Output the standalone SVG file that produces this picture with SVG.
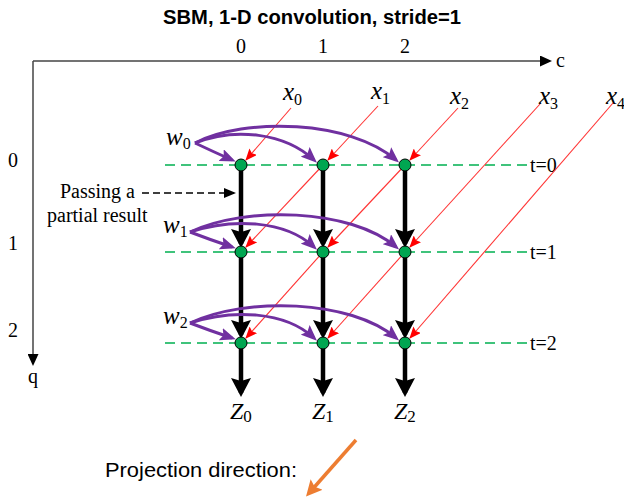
<svg xmlns="http://www.w3.org/2000/svg" width="624" height="501" viewBox="0 0 624 501">
<style>
.serif{font-family:"Liberation Serif","Times New Roman",serif;fill:#000}
.it{font-style:italic}
.sans{font-family:"Liberation Sans",Arial,sans-serif;fill:#000}
.axis{stroke:#444;stroke-width:1.5;fill:none}
.grid{stroke:#00B050;stroke-width:1.5;stroke-dasharray:10 6;fill:none}
.blk{stroke:#000;stroke-width:4.5;fill:none}
.red{stroke:#FF3333;stroke-width:1.1;fill:none}
.pur{stroke:#7030A0;stroke-width:3;fill:none}
.node{fill:#00A651;stroke:#000;stroke-width:1}
</style>
<defs>
<marker id="mAxis" markerUnits="userSpaceOnUse" markerWidth="13" markerHeight="11" refX="10" refY="5.5" orient="auto"><path d="M0,0 L12,5.5 L0,11 z" fill="#000"/></marker>
<marker id="mBlk" markerUnits="userSpaceOnUse" markerWidth="21" markerHeight="20" refX="15" refY="10" orient="auto"><path d="M0,0 L19,10 L0,20 L3,10 z" fill="#000"/></marker>
<marker id="mRed" markerUnits="userSpaceOnUse" markerWidth="14" markerHeight="10" refX="11" refY="5" orient="auto"><path d="M0,0 L12,5 L0,10 L2,5 z" fill="#FF0000"/></marker>
<marker id="mPur" markerUnits="userSpaceOnUse" markerWidth="17" markerHeight="13" refX="12" refY="6.5" orient="auto"><path d="M0,0 L16,6.5 L0,13 L3,6.5 z" fill="#7030A0"/></marker>
<marker id="mDash" markerUnits="userSpaceOnUse" markerWidth="14" markerHeight="10" refX="10" refY="5" orient="auto"><path d="M0,0 L12,5 L0,10 z" fill="#000"/></marker>
<marker id="mOr" markerUnits="userSpaceOnUse" markerWidth="18" markerHeight="16" refX="10" refY="8" orient="auto"><path d="M0,0 L16,8 L0,16 L3,8 z" fill="#ED7D31"/></marker>
</defs>

<g id="title"><text class="sans" x="312" y="24" font-size="20" font-weight="bold" text-anchor="middle" textLength="298" lengthAdjust="spacingAndGlyphs">SBM, 1-D convolution, stride=1</text></g>

<g id="axes">
<line class="axis" x1="33" y1="61" x2="550" y2="61" marker-end="url(#mAxis)"/>
<line class="axis" x1="33" y1="61" x2="33" y2="364" marker-end="url(#mAxis)"/>
<text class="serif" x="556" y="67" font-size="20">c</text>
<text class="serif" x="28" y="383" font-size="20">q</text>
<text class="serif" x="241" y="53" font-size="20" text-anchor="middle">0</text>
<text class="serif" x="323" y="53" font-size="20" text-anchor="middle">1</text>
<text class="serif" x="405" y="53" font-size="20" text-anchor="middle">2</text>
<text class="serif" x="13" y="167" font-size="20" text-anchor="middle">0</text>
<text class="serif" x="13" y="250" font-size="20" text-anchor="middle">1</text>
<text class="serif" x="13" y="337" font-size="20" text-anchor="middle">2</text>
</g>

<g id="time-lines">
<line class="grid" x1="165" y1="165" x2="528" y2="165"/>
<line class="grid" x1="165" y1="252" x2="528" y2="252"/>
<line class="grid" x1="165" y1="343" x2="528" y2="343"/>
<text class="serif" x="530" y="172" font-size="20">t=0</text>
<text class="serif" x="530" y="259" font-size="20">t=1</text>
<text class="serif" x="530" y="350" font-size="20">t=2</text>
</g>

<g id="inputs">
<text class="serif it" x="283" y="100" font-size="25">x<tspan font-size="16" dy="5" font-style="normal">0</tspan></text>
<text class="serif it" x="371" y="99" font-size="25">x<tspan font-size="16" dy="5" font-style="normal">1</tspan></text>
<text class="serif it" x="450" y="104" font-size="25">x<tspan font-size="16" dy="5" font-style="normal">2</tspan></text>
<text class="serif it" x="539" y="104" font-size="25">x<tspan font-size="16" dy="5" font-style="normal">3</tspan></text>
<text class="serif it" x="606" y="104" font-size="25">x<tspan font-size="16" dy="5" font-style="normal">4</tspan></text>
</g>

<g id="weights">
<text class="serif it" x="166" y="145" font-size="25">w<tspan font-size="16" dy="4" font-style="normal">0</tspan></text>
<text class="serif it" x="163" y="233" font-size="25">w<tspan font-size="16" dy="4" font-style="normal">1</tspan></text>
<text class="serif it" x="163" y="324" font-size="25">w<tspan font-size="16" dy="4" font-style="normal">2</tspan></text>
</g>

<g id="outputs">
<text class="serif it" x="230" y="419" font-size="24">Z<tspan font-size="17" dy="3" font-style="normal">0</tspan></text>
<text class="serif it" x="312" y="419" font-size="24">Z<tspan font-size="17" dy="3" font-style="normal">1</tspan></text>
<text class="serif it" x="394" y="419" font-size="24">Z<tspan font-size="17" dy="3" font-style="normal">2</tspan></text>
</g>

<g id="note">
<text class="serif" x="60" y="198" font-size="20">Passing a</text>
<text class="serif" x="47" y="222" font-size="20">partial result</text>
<text class="sans" x="105" y="477" font-size="21" textLength="192" lengthAdjust="spacingAndGlyphs">Projection direction:</text>
</g>

<g id="connectors">
<!-- black partial-result arrows -->
<line class="blk" x1="241" y1="165" x2="241" y2="244" marker-end="url(#mBlk)"/>
<line class="blk" x1="323" y1="165" x2="323" y2="244" marker-end="url(#mBlk)"/>
<line class="blk" x1="405" y1="165" x2="405" y2="244" marker-end="url(#mBlk)"/>
<line class="blk" x1="241" y1="252" x2="241" y2="335" marker-end="url(#mBlk)"/>
<line class="blk" x1="323" y1="252" x2="323" y2="335" marker-end="url(#mBlk)"/>
<line class="blk" x1="405" y1="252" x2="405" y2="335" marker-end="url(#mBlk)"/>
<line class="blk" x1="241" y1="343" x2="241" y2="393" marker-end="url(#mBlk)"/>
<line class="blk" x1="323" y1="343" x2="323" y2="393" marker-end="url(#mBlk)"/>
<line class="blk" x1="405" y1="343" x2="405" y2="393" marker-end="url(#mBlk)"/>
<!-- red input lines -->
<line class="red" x1="291" y1="108" x2="246" y2="160" marker-end="url(#mRed)"/>
<line class="red" x1="378" y1="106" x2="328" y2="160" marker-end="url(#mRed)"/>
<line class="red" x1="458" y1="108" x2="410" y2="160" marker-end="url(#mRed)"/>
<line class="red" x1="540" y1="104" x2="410" y2="247" marker-end="url(#mRed)"/>
<line class="red" x1="613" y1="103" x2="410" y2="338" marker-end="url(#mRed)"/>
<line class="red" x1="323" y1="165" x2="246" y2="247" marker-end="url(#mRed)"/>
<line class="red" x1="405" y1="165" x2="328" y2="247" marker-end="url(#mRed)"/>
<line class="red" x1="405" y1="252" x2="328" y2="338" marker-end="url(#mRed)"/>
<line class="red" x1="323" y1="252" x2="246" y2="338" marker-end="url(#mRed)"/>
<!-- purple weight arcs -->
<path class="pur" d="M195,143 Q214,152 232,160" marker-end="url(#mPur)"/>
<path class="pur" d="M195,143 C235,127 285,133 314,160" marker-end="url(#mPur)"/>
<path class="pur" d="M195,143 C245,117 350,120 396,160" marker-end="url(#mPur)"/>
<path class="pur" d="M190,232 Q211,240 232,247" marker-end="url(#mPur)"/>
<path class="pur" d="M190,232 C232,218 285,220 314,247" marker-end="url(#mPur)"/>
<path class="pur" d="M190,232 C245,206 350,208 396,247" marker-end="url(#mPur)"/>
<path class="pur" d="M190,323 Q211,331 232,338" marker-end="url(#mPur)"/>
<path class="pur" d="M190,323 C232,309 285,311 314,338" marker-end="url(#mPur)"/>
<path class="pur" d="M190,323 C245,297 350,299 396,338" marker-end="url(#mPur)"/>
<!-- passing a partial result -->
<line x1="142" y1="193" x2="234" y2="193" stroke="#000" stroke-width="1.5" stroke-dasharray="7 4" marker-end="url(#mDash)"/>
<!-- projection direction -->
<line x1="356" y1="440" x2="310" y2="492" stroke="#ED7D31" stroke-width="3.5" marker-end="url(#mOr)"/>
</g>

<g id="nodes">
<g id="n00"><circle class="node" cx="241" cy="165" r="6"/></g>
<g id="n10"><circle class="node" cx="323" cy="165" r="6"/></g>
<g id="n20"><circle class="node" cx="405" cy="165" r="6"/></g>
<g id="n01"><circle class="node" cx="241" cy="252" r="6"/></g>
<g id="n11"><circle class="node" cx="323" cy="252" r="6"/></g>
<g id="n21"><circle class="node" cx="405" cy="252" r="6"/></g>
<g id="n02"><circle class="node" cx="241" cy="343" r="6"/></g>
<g id="n12"><circle class="node" cx="323" cy="343" r="6"/></g>
<g id="n22"><circle class="node" cx="405" cy="343" r="6"/></g>
</g>
</svg>
